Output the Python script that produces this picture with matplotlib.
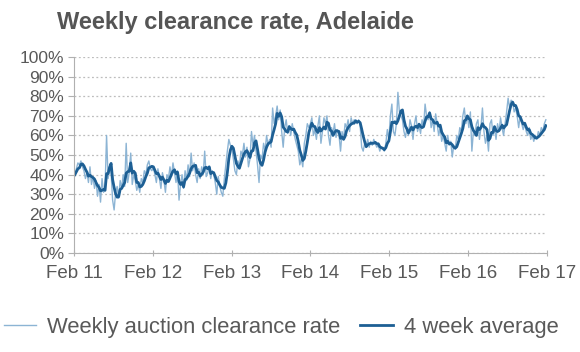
import pandas as pd
import matplotlib.pyplot as plt
from matplotlib.ticker import PercentFormatter

# Weekly auction clearance rate (%), one list per year (Feb-Feb)
rate_2011 = [40, 43, 46, 45, 47, 44, 42, 38, 41, 36, 44, 35, 39, 33, 37, 29, 35, 26, 38, 31,
             33, 60, 38, 44, 41, 27, 22, 31, 34, 28, 37, 33, 40, 34, 56, 36, 41, 51, 35, 40,
             37, 32, 35, 31, 38, 36, 42, 40, 45, 47, 43, 42]
rate_2012 = [44, 40, 36, 43, 38, 33, 41, 37, 31, 40, 38, 44, 39, 46, 41, 36, 42, 27, 35, 40,
             33, 42, 37, 45, 39, 51, 42, 46, 40, 36, 43, 38, 44, 40, 52, 39, 41, 44, 38, 42,
             40, 36, 30, 39, 34, 31, 29, 38, 45, 52, 58, 55]
rate_2013 = [53, 48, 42, 40, 47, 44, 52, 50, 56, 49, 54, 44, 48, 62, 55, 60, 52, 45, 36, 50,
             48, 56, 52, 60, 55, 58, 54, 74, 66, 70, 75, 68, 73, 62, 54, 64, 68, 61, 65, 60,
             66, 62, 58, 55, 52, 45, 48, 44, 56, 60, 66, 64]
rate_2014 = [66, 69, 60, 63, 58, 65, 70, 56, 62, 69, 66, 70, 60, 55, 64, 61, 66, 59, 63, 60,
             52, 62, 58, 66, 64, 68, 62, 69, 66, 68, 67, 66, 68, 65, 54, 52, 56, 55, 58, 54,
             57, 55, 58, 56, 54, 55, 52, 54, 53, 52, 56, 63]
rate_2015 = [58, 70, 76, 62, 60, 66, 82, 72, 70, 68, 62, 59, 64, 60, 68, 65, 58, 66, 70, 62,
             65, 61, 68, 64, 76, 70, 68, 72, 64, 68, 62, 71, 66, 60, 64, 57, 60, 56, 52, 60,
             55, 57, 49, 55, 53, 60, 58, 64, 62, 70, 74, 66]
rate_2016 = [70, 64, 72, 52, 62, 60, 66, 68, 58, 64, 74, 62, 56, 60, 52, 66, 68, 60, 64, 58,
             66, 62, 69, 64, 60, 66, 72, 79, 74, 78, 77, 72, 74, 70, 64, 70, 66, 63, 66, 62,
             60, 64, 58, 60, 57, 60, 58, 62, 60, 64, 62, 66, 68]

weekly = rate_2011 + rate_2012 + rate_2013 + rate_2014 + rate_2015 + rate_2016
dates = pd.date_range('2011-02-05', periods=len(weekly), freq='7D')
data = pd.DataFrame({'weekly': weekly}, index=dates)
data['avg4'] = data['weekly'].rolling(window=4, min_periods=1).mean()

tick_dates = pd.date_range('2011-02-01', '2017-02-01', freq='12MS')
tick_labels = ['Feb 11', 'Feb 12', 'Feb 13', 'Feb 14', 'Feb 15', 'Feb 16', 'Feb 17']

plt.rcParams['font.family'] = ['Liberation Sans', 'DejaVu Sans']
text_col = '#595959'

fig = plt.figure(figsize=(5.8, 3.52), dpi=100)
ax = fig.add_axes([0.1276, 0.281, 0.815, 0.557])

ax.plot(data.index, data['weekly'], color='#8cb4d4', lw=1.0, label='Weekly auction clearance rate')
ax.plot(data.index, data['avg4'], color='#1d5f94', lw=2.0, label='4 week average')

ax.set_xlim(tick_dates[0], tick_dates[-1])
ax.set_ylim(0, 100)
ax.set_yticks(range(0, 101, 10))
ax.yaxis.set_major_formatter(PercentFormatter(decimals=0))
ax.set_xticks(tick_dates)
ax.set_xticklabels(tick_labels)

ax.grid(axis='y', color='#bdbdbd', linestyle=(0, (1.5, 2)), lw=0.9)
ax.set_axisbelow(True)
for s in ['top', 'right']:
    ax.spines[s].set_visible(False)
for s in ['left', 'bottom']:
    ax.spines[s].set_color('#b0b0b0')
ax.tick_params(axis='y', colors='#b0b0b0', labelcolor=text_col, labelsize=12.5, length=4, pad=3)
ax.tick_params(axis='x', colors='#b0b0b0', labelcolor=text_col, labelsize=13.5, length=5,
               direction='inout', pad=6)

fig.text(0.098, 0.937, 'Weekly clearance rate, Adelaide', fontsize=17, fontweight='bold',
         color='#555555', va='center')

fig.legend(loc='center', bbox_to_anchor=(0.485, 0.071), ncol=2, frameon=False,
           fontsize=15.8, labelcolor=text_col, handlelength=1.5, handletextpad=0.5,
           columnspacing=0.9)

fig.savefig('out.png', dpi=100)
